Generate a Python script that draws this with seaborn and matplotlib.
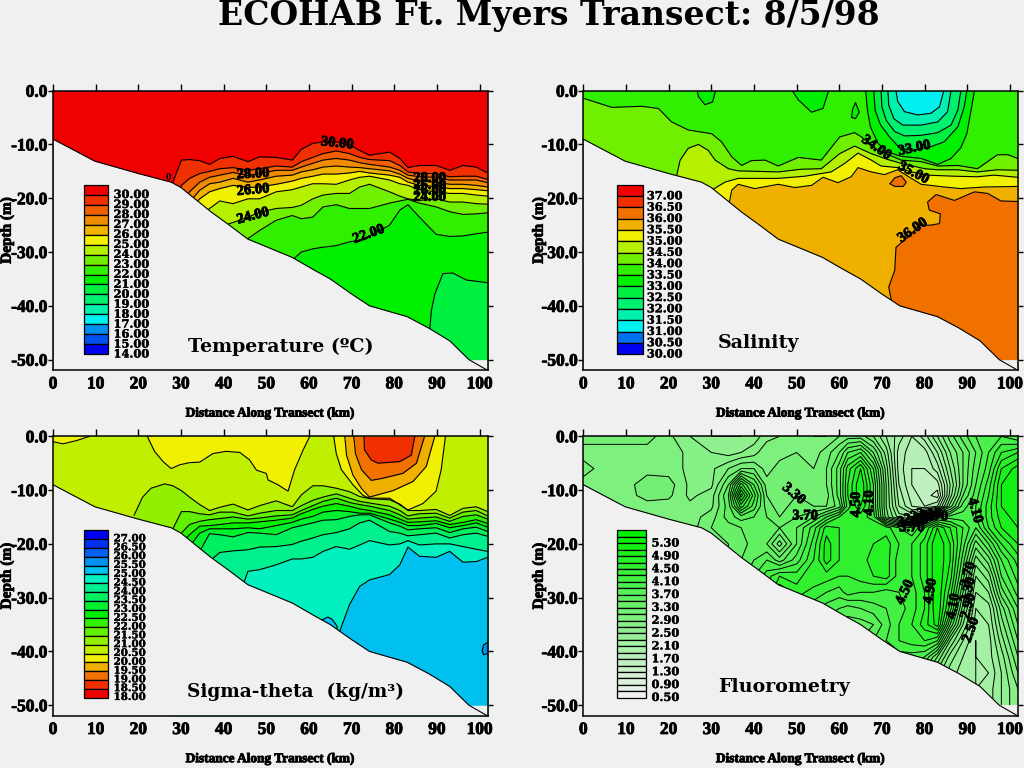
import numpy as np
import seaborn as sns
import matplotlib
matplotlib.use('Agg')
import matplotlib.pyplot as plt
import matplotlib.patheffects as pe
from matplotlib.patches import Rectangle

BG = '#F0F0F0'

# sea floor along the transect (depth in m, positive down)
floor_km = [0, 9.8, 20, 27.7, 30, 37, 41, 45.7, 50, 56.1, 60.9, 65, 70, 74.2, 83, 88, 93, 97.5, 101.9]
floor_m = [9, 13.1, 15.4, 17, 18, 22.5, 24.8, 27.6, 29, 31, 33.2, 35, 37.8, 40, 42, 44.1, 46.5, 50, 52]

# stations at which the layered isolines were read
station_km = [28.1, 30.1, 32, 34.4, 36.7, 39.1, 42.2, 45.7, 48.4, 52.3, 56.1, 58.2, 60.9, 63.3, 66.4,
              69.5, 71.9, 74.2, 78.9, 81.3, 83.2, 85.9, 89.8, 93, 96.1, 99.2, 101.9]

# temperature isotherm depths (m)
t30 = [17, 12.9, 12.8, 13, 13.7, 12.6, 12.2, 13.2, 12.3, 12.4, 12.9, 10.9, 9.8, 9.5, 9.5, 10.1, 11.1, 12, 11.4, 12.6, 14.3, 13.9, 13.9, 14.8, 13.9, 14.2, 15.3]
t29 = [22.2, 17.6, 16.3, 15.4, 15, 14.5, 14.3, 14.8, 14.5, 14, 14.2, 13.2, 12.4, 11.7, 11.2, 11.7, 12.4, 12.8, 13, 13.9, 15.1, 15.4, 15.4, 16, 15.9, 15.9, 16.5]
t28 = [23.5, 21.6, 18.8, 17, 16.1, 15.7, 15.2, 15.8, 15.4, 14.8, 14.8, 14.2, 13.5, 12.9, 12.6, 12.9, 13.4, 13.7, 14.2, 14.8, 15.7, 16, 16.1, 16.6, 16.6, 16.6, 17.1]
t27 = [24.7, 22.9, 20.7, 18.5, 17.3, 17, 16.3, 17, 16.6, 15.9, 15.7, 15.1, 14.7, 14.2, 14, 14.2, 14.3, 14.5, 14.9, 15.5, 16.3, 16.8, 17, 17.4, 17.4, 17.6, 17.9]
t26 = [26, 24.1, 22.2, 20.1, 18.8, 18.2, 17.6, 18, 17.9, 17.4, 16.8, 16.3, 15.9, 15.5, 15.5, 15.3, 15, 15.3, 15.7, 16.1, 17, 17.6, 17.8, 18.2, 18.2, 18.4, 18.6]
t25 = [27.2, 26, 24.7, 23.5, 21.9, 20.5, 21, 20.1, 20.1, 18.8, 18.4, 17.9, 17.3, 17.3, 17.4, 16.6, 16.1, 15.9, 16.6, 17.3, 17.6, 18.4, 18.8, 19.1, 19.1, 19.4, 19.6]
t24 = [35, 35, 35, 35, 30, 25.3, 24.5, 23.5, 22.6, 21.9, 21.7, 21.3, 20.1, 19.4, 19.1, 19.1, 17.9, 17.4, 18.8, 19.6, 20.1, 20.4, 20.1, 20.7, 20.7, 21, 21.1]
t23 = [40, 40, 40, 40, 40, 40, 40, 27.5, 26, 24.1, 23.2, 23.8, 23.5, 21.6, 21.2, 21.9, 21.9, 21.9, 20.9, 20.5, 20.2, 20.9, 21.6, 22.5, 23, 22.9, 22.7]
t22 = [40, 40, 40, 40, 40, 40, 40, 40, 40, 40, 31.5, 30, 29.4, 29.1, 28.8, 28.1, 27.8, 27, 25, 22.2, 21.2, 23.5, 26.7, 27.1, 27, 26.6, 26.3]
t21_km = [88.3, 88.7, 89.5, 91.4, 93.75, 96.9, 101.9]
t21_m = [44.5, 40.9, 37.8, 34, 33.9, 35.2, 35.7]

temp_labels = ['30.00', '29.00', '28.00', '27.00', '26.00', '25.00', '24.00', '23.00', '22.00', '21.00',
               '20.00', '19.00', '18.00', '17.00', '16.00', '15.00', '14.00']
temp_colors = ['#F00000', '#F03000', '#F06000', '#F08C00', '#F0B400', '#F0F000', '#B4F000', '#70F000', '#30F000',
               '#00F000', '#00F040', '#00F070', '#00F0B0', '#00F0F0', '#0090F0', '#0050F0', '#0000F0']

# salinity: surface low-salinity cells
s335_km = [66.2, 66.6, 67.3, 69.1, 71.4, 74.5, 79.2, 83.1, 86.2, 88.5, 89.9, 90.9, 91.7]
s335_m = [0, 3.6, 6.7, 9.8, 11.4, 12.2, 12.6, 13.7, 12.6, 10.6, 8, 3.6, 0]
s33_km = [68.1, 68.4, 69.7, 71.8, 74.1, 76.9, 81.5, 84.6, 87.8, 89.3, 89.9]
s33_m = [0, 3.6, 6.4, 8.6, 10.6, 11.1, 10.4, 9.5, 6.7, 3, 0]
s325_km = [69.8, 70, 71, 73, 75.3, 79.2, 83.1, 86.2, 87.8, 88.5]
s325_m = [0, 3, 5.5, 7.6, 8.4, 8.3, 7.8, 6.4, 3.6, 0]
s32_km = [71.4, 71.6, 72.8, 74.9, 79.2, 83.1, 85.4, 86.2]
s32_m = [0, 2.7, 5.2, 6.4, 6.4, 5.8, 3.9, 0]
s315_km = [73.3, 73.7, 75.3, 78.4, 81.5, 83.5, 84.5]
s315_m = [0, 2, 3.9, 4.5, 4.2, 3, 0]
cell_a_km = [26.7, 27, 28.5, 30.3, 31]
cell_a_m = [0, 1.1, 2.6, 2.1, 0]
cell_b_km = [49, 50.4, 53.5, 56.2, 57.5]
cell_b_m = [0, 1.7, 4, 3.3, 0]
cell_c_km = [62.9, 63.1, 63.8, 64.7, 63.8, 63.1, 62.9]
cell_c_m = [5, 3.5, 2.2, 4, 5.2, 5, 5]

# salinity: layers
s34_km = [0, 6.7, 13.7, 17.6, 20.7, 24.6, 30.1, 32.4, 34.8, 37.1, 39.4, 42.6, 45.7, 50.4, 55.8, 60.1, 63.6, 65.2, 69.1, 74.5, 79.2, 83.1, 87.8, 92.4, 97.1, 99.5, 101.9]
s34_m = [1.4, 3.1, 2.9, 3.3, 5.8, 7.3, 8, 9.5, 12.3, 13.9, 13, 12.9, 14, 12.4, 12.9, 8.6, 7.8, 8.6, 11.1, 12.9, 13.2, 14, 13.9, 14.5, 11.9, 11.9, 12.6]
s345_km = [21.9, 22.7, 24.6, 27, 29.3, 30.9, 34, 36.3, 45.7, 51.1, 55.8, 60.1, 63.6, 67.5, 71.4, 74.5, 80, 83.1, 87.8, 92.4, 97.1, 101.9]
s345_m = [15.7, 12.9, 10.7, 10, 11.1, 12.9, 14.5, 14.9, 15.1, 14.6, 14.5, 11.7, 10.3, 11.7, 12.8, 13.5, 14.5, 14.7, 14.7, 15.1, 14.7, 14.8]
s35_km = [30.1, 33.2, 36.3, 45.7, 51.9, 58.1, 61.3, 64.4, 67.5, 69.8, 73.7, 76.9, 80.7, 87, 92.4, 96.3, 101.9]
s35_m = [18.5, 17, 16.3, 16.3, 15.9, 15.1, 13.5, 11.6, 12.9, 14, 14.3, 15.1, 15.7, 15.9, 16, 15.7, 16.1]
s355_km = [34.1, 34.8, 36.3, 40.2, 45.7, 49.6, 53.5, 56.2, 59.7, 62.8, 64.4, 67.5, 70.6, 73.7, 76.1, 79.2, 84.6, 88.5, 94, 101.9]
s355_m = [21.3, 18.5, 17.4, 18.2, 17.4, 18, 17.6, 16.1, 17.1, 16, 14.3, 15.1, 15.6, 14.7, 15.9, 17.4, 17.9, 18.2, 17.9, 17.8]
s36_km = [72.2, 71.6, 73, 73.3, 76.1, 78.8, 81.4, 83.5, 83.7, 81.1, 80.7, 82.7, 87, 91.7, 94.8, 97.9, 101.9]
s36_m = [39, 36.5, 33.4, 29.1, 27.2, 25, 25, 24.7, 22.9, 22.2, 20.7, 19.3, 20.4, 18.8, 19.1, 20.5, 20.6]
s36_spot_km = [71.9, 73, 74.5, 75.7, 75, 73, 71.9]
s36_spot_m = [17.3, 16.2, 15.8, 17, 17.8, 17.8, 17.3]

sal_labels = ['37.00', '36.50', '36.00', '35.50', '35.00', '34.50', '34.00', '33.50', '33.00', '32.50',
              '32.00', '31.50', '31.00', '30.50', '30.00']
sal_colors = ['#F00000', '#F03000', '#F07000', '#F0B000', '#F0F000', '#B4F000', '#70F000', '#30F000', '#00F000',
              '#00F040', '#00F070', '#00F0B0', '#00F0F0', '#0070F0', '#0000F0']

# sigma-theta: surface cells
st205a_km = [0, 2.3, 5.5, 8.6]
st205a_m = [1, 1.4, 0.8, 0]
st205b_km = [22.1, 23.8, 25.8, 27.7, 29.7, 32, 34.4, 37.5, 40.6, 43.8, 46.1, 47.7, 50, 50.4, 52.7, 55.1, 56.6, 58.6, 60.2]
st205b_m = [0, 2.8, 4.7, 6, 5.3, 4.9, 4.8, 3.2, 2.8, 3, 4.4, 6.3, 6.9, 8.1, 9, 10.2, 6.3, 2.6, 0]
st205c_km = [65.8, 66.4, 67.6, 70.3, 72.7, 74.2, 78.9, 83.2, 86.7, 89.8, 91, 92]
st205c_m = [0, 3.2, 6.2, 9, 11, 11.5, 11.5, 13.7, 12.5, 10.2, 6.2, 0]
st20_km = [68.4, 68.8, 70.3, 72.3, 74.2, 79.7, 84.4, 87.5, 89.5]
st20_m = [0, 3.5, 7.2, 9.7, 11.3, 10.1, 8.4, 5.6, 0]
st195_km = [70.5, 70.9, 72.3, 74.6, 77.3, 82, 85.2, 87.1]
st195_m = [0, 3.2, 6.2, 8.2, 7.8, 6.9, 5, 0]
st19_km = [72.9, 73, 74.6, 76.2, 81.3, 84, 84.8]
st19_m = [0, 2.5, 4.4, 5, 4.7, 3.5, 0]

# sigma-theta: layers
st21_km = [19, 21, 23, 26.2] + station_km
st21_m = [14.7, 11.3, 9.65, 8.85, 9.2, 10.1, 11.3, 12.7, 13.8, 13.2, 12.6, 13.7, 12.9, 12, 13.1, 10.9, 9.2, 9.2, 9.65, 10.3, 11.2, 11.6, 11.8, 12.6, 13.8, 13.8, 13.6, 14.7, 13.4, 13.1, 14]
st215 = [17.2, 14, 14, 14.4, 14.6, 14.1, 14.1, 14.8, 14.3, 13.8, 13.8, 12.9, 11.9, 11.3, 10.7, 11.5, 12.1, 12.4, 13, 13.8, 14.8, 14.4, 14.3, 15.2, 14.1, 13.8, 14.8]
st22 = [19.8, 18, 16.4, 15.8, 15.5, 15.3, 15, 15.4, 15.2, 14.8, 14.6, 13.8, 12.9, 12.1, 11.5, 12.3, 12.7, 13, 13.8, 14.6, 15.4, 15.2, 15, 15.8, 14.9, 14.6, 15.4]
st225 = [21.7, 19.8, 18.3, 16.7, 16.6, 16.4, 16.1, 16.1, 15.9, 15.6, 15.2, 14.4, 13.6, 13, 12.5, 13, 13.5, 13.8, 14.6, 15.4, 16, 15.9, 15.7, 16.4, 16, 15.5, 16.2]
st23 = [30, 21.7, 20.5, 18, 17.2, 17.2, 17.2, 17, 17.2, 16.6, 16, 15.4, 14.9, 14.1, 13.8, 14, 14.3, 14.3, 15.4, 16, 16.6, 16.6, 16.2, 17, 16.6, 16.1, 16.9]
st235 = [30, 30, 22.9, 21.4, 18.1, 18.3, 18.7, 17.9, 18, 18.3, 17, 16.6, 16.1, 15.6, 15.5, 14.9, 14.6, 14.6, 16.1, 16.7, 17.4, 17.2, 17, 17.9, 17.2, 16.9, 17.7]
st24 = [33, 33, 28, 26, 23.2, 21.6, 21.3, 21.1, 20.6, 20.5, 20.1, 19.5, 18.9, 18.3, 17.9, 17.2, 16.1, 15.6, 17.7, 18, 18.5, 18.3, 18, 18.9, 18.3, 18, 18.6]
st245 = [40, 40, 40, 40, 40, 40, 33, 25.1, 24.8, 23.9, 22.8, 22.8, 22.5, 21.4, 20.5, 21, 20.2, 19.4, 20.2, 20, 19.4, 20.2, 20, 20, 20.5, 21, 21.4]
st25 = [60, 60, 60, 60, 60, 60, 60, 60, 60, 60, 60, 60, 60, 60, 38, 31.3, 27.9, 26.7, 25.7, 23.9, 20.6, 22.3, 22.5, 21.4, 23.4, 23.3, 22.5]
st25_spot_km = [62.9, 64.4, 65.4, 66.6, 66.6, 62.9]
st25_spot_m = [34.2, 33.6, 34, 35.3, 38, 38]
st255_spot_km = [101.9, 100.9, 100.6, 100.9, 101.9]
st255_spot_m = [38.3, 38.8, 39.8, 40.6, 40.4]

sig_labels = ['27.00', '26.50', '26.00', '25.50', '25.00', '24.50', '24.00', '23.50', '23.00', '22.50',
              '22.00', '21.50', '21.00', '20.50', '20.00', '19.50', '19.00', '18.50', '18.00']
sig_colors = ['#0000F0', '#0030F0', '#0060F0', '#0090F0', '#00C0F0', '#00F0C0', '#00F090', '#00F060', '#00F030',
              '#00F000', '#30F000', '#60F000', '#90F000', '#C0F000', '#F0F000', '#F0B000', '#F07000', '#F03000', '#F00000']

# fluorometry grid
fl_km = [0, 5, 10, 15, 20, 25, 30, 34, 37, 40, 43, 46, 50, 54, 57, 60, 62, 65, 68, 71, 74, 77, 80, 83, 86, 89, 92, 95, 98, 101.9]
fl_m = [0, 3, 6, 9, 11, 13, 15, 17, 20, 23, 26, 29, 32, 35, 38, 41, 44, 47, 50]
fl_0 = [3.2, 3.2, 3.2, 3.2, 2.95, 2.7, 2.5, 2.5, 2.5, 2.6, 2.8, 2.9, 3.1, 2.9, 2.9, 3.1, 3.2, 3.2, 2.9, 2.5, 2.2, 1.9, 2.2, 2.7, 3.2, 3.6, 3.9, 4.1, 4.1, 3.9]
fl_3 = [3.0, 3.0, 3.0, 3.0, 3.0, 2.85, 2.7, 2.6, 2.7, 2.8, 3.1, 3.0, 3.1, 3.0, 3.2, 3.5, 3.9, 4.1, 3.5, 2.8, 2.0, 1.8, 1.8, 2.3, 2.9, 3.3, 3.7, 4.1, 4.5, 4.7]
fl_6 = [3.2, 3.0, 3.0, 3.0, 3.0, 2.85, 2.85, 3.1, 3.3, 3.3, 3.0, 3.2, 3.2, 3.1, 3.3, 3.8, 4.4, 4.9, 4.1, 3.0, 2.0, 1.7, 1.7, 2.0, 2.7, 3.3, 3.8, 4.2, 4.9, 5.2]
fl_9 = [3.0, 3.0, 3.0, 3.25, 3.2, 2.85, 2.85, 3.5, 4.6, 3.9, 3.2, 3.3, 3.2, 3.2, 3.3, 3.8, 4.5, 5.1, 4.3, 3.1, 2.1, 1.7, 1.7, 1.6, 2.5, 3.3, 3.9, 4.4, 5.1, 5.3]
fl_11 = [3.0, 3.0, 3.0, 3.2, 3.15, 2.85, 3.0, 3.7, 5.2, 4.2, 3.3, 3.2, 3.3, 3.3, 3.2, 3.8, 4.5, 5.1, 4.3, 3.1, 2.2, 1.8, 1.6, 1.4, 2.6, 3.5, 4.0, 4.5, 5.1, 5.3]
fl_13 = [3.0, 3.0, 3.0, 3.0, 3.0, 2.95, 3.05, 3.6, 4.6, 4.0, 3.4, 3.2, 3.4, 3.3, 3.3, 3.6, 4.4, 4.9, 4.3, 3.1, 2.3, 1.9, 1.7, 1.9, 3.0, 3.8, 4.1, 4.6, 5.1, 5.3]
fl_15 = [3.0, 3.0, 3.0, 3.0, 3.0, 3.0, 3.2, 3.6, 3.8, 3.7, 3.5, 3.3, 3.5, 3.7, 4.1, 4.5, 4.7, 4.6, 4.4, 3.2, 2.6, 2.5, 3.2, 4.0, 4.0, 4.0, 4.1, 4.6, 5.0, 5.2]
fl_17 = [3.0, 3.0, 3.0, 3.0, 3.0, 3.0, 3.3, 3.4, 3.5, 3.6, 3.6, 3.5, 3.7, 4.2, 4.8, 4.7, 4.6, 4.5, 4.7, 4.6, 4.3, 4.1, 4.5, 5.1, 4.7, 4.3, 3.9, 4.5, 4.9, 5.1]
fl_20 = [3.0, 3.0, 3.0, 3.0, 3.0, 3.0, 3.1, 3.3, 3.4, 3.6, 3.5, 3.0, 3.7, 4.4, 5.0, 4.7, 4.6, 4.6, 4.7, 4.8, 4.5, 4.5, 4.8, 5.3, 4.9, 4.2, 3.4, 3.9, 4.5, 4.9]
fl_23 = [3.0, 3.0, 3.0, 3.0, 3.0, 3.0, 3.0, 3.3, 3.5, 3.7, 3.9, 3.6, 4.0, 4.5, 5.0, 4.7, 4.6, 4.6, 4.8, 4.8, 4.4, 4.5, 4.8, 5.3, 4.9, 4.0, 3.0, 3.4, 4.1, 4.6]
fl_26 = [3.0, 3.0, 3.0, 3.0, 3.0, 3.0, 3.0, 3.3, 3.6, 3.9, 4.2, 4.5, 4.4, 4.7, 4.6, 4.5, 4.5, 4.6, 4.7, 4.8, 4.4, 4.5, 4.8, 5.3, 4.8, 3.8, 2.7, 3.0, 3.9, 4.4]
fl_29 = [3.0, 3.0, 3.0, 3.0, 3.0, 3.0, 3.0, 3.3, 3.6, 3.9, 4.2, 4.9, 4.6, 4.4, 4.3, 4.2, 4.4, 4.3, 4.3, 4.2, 4.3, 4.4, 4.7, 5.3, 4.6, 3.5, 2.5, 2.7, 3.6, 4.2]
fl_32 = [3.0, 3.0, 3.0, 3.0, 3.0, 3.0, 3.0, 3.3, 3.6, 3.9, 4.2, 4.5, 4.3, 4.2, 4.0, 3.9, 3.8, 3.9, 4.0, 4.1, 4.2, 4.4, 4.7, 5.3, 4.4, 3.2, 2.3, 2.4, 3.2, 3.9]
fl_35 = [3.0, 3.0, 3.0, 3.0, 3.0, 3.0, 3.0, 3.3, 3.6, 3.9, 4.2, 4.5, 4.3, 4.0, 3.8, 3.7, 3.6, 3.6, 3.7, 4.0, 4.3, 4.5, 4.8, 5.2, 3.9, 2.9, 2.2, 2.3, 3.0, 3.7]
fl_38 = [3.0, 3.0, 3.0, 3.0, 3.0, 3.0, 3.0, 3.3, 3.6, 3.9, 4.2, 4.5, 4.3, 4.0, 3.8, 3.7, 3.6, 3.7, 3.9, 4.1, 4.3, 4.4, 4.5, 4.3, 3.1, 2.5, 2.1, 2.2, 2.8, 3.5]
fl_41 = [3.0, 3.0, 3.0, 3.0, 3.0, 3.0, 3.0, 3.3, 3.6, 3.9, 4.2, 4.5, 4.3, 4.0, 3.8, 3.7, 3.6, 3.7, 3.9, 4.0, 4.0, 4.0, 3.9, 3.3, 2.6, 2.3, 2.1, 2.2, 2.6, 3.3]
fl_44 = [3.0, 3.0, 3.0, 3.0, 3.0, 3.0, 3.0, 3.3, 3.6, 3.9, 4.2, 4.5, 4.3, 4.0, 3.8, 3.7, 3.6, 3.7, 3.9, 4.0, 4.0, 3.8, 3.4, 2.8, 2.4, 2.2, 2.1, 2.1, 2.5, 3.1]
fl_47 = [3.0, 3.0, 3.0, 3.0, 3.0, 3.0, 3.0, 3.3, 3.6, 3.9, 4.2, 4.5, 4.3, 4.0, 3.8, 3.7, 3.6, 3.7, 3.9, 4.0, 4.0, 3.8, 3.4, 2.8, 2.4, 2.2, 2.1, 2.2, 2.5, 2.9]
fl_50 = [3.0, 3.0, 3.0, 3.0, 3.0, 3.0, 3.0, 3.3, 3.6, 3.9, 4.2, 4.5, 4.3, 4.0, 3.8, 3.7, 3.6, 3.7, 3.9, 4.0, 4.0, 3.8, 3.4, 2.8, 2.4, 2.2, 2.1, 2.2, 2.5, 2.9]

fl_levels = [0.5 + 0.2 * i for i in range(27)]
fl_labels = ['5.30', '4.90', '4.50', '4.10', '3.70', '3.30', '2.90', '2.50', '2.10', '1.70', '1.30', '0.90', '0.50']

sns.set_theme(style='white', rc={'figure.facecolor': BG, 'axes.facecolor': BG, 'savefig.facecolor': BG})
SERIF = 'Liberation Serif'
WIDE = 'DejaVu Serif'
HEAVY = [pe.withStroke(linewidth=0.6, foreground='black')]
SEMI = [pe.withStroke(linewidth=0.25, foreground='black')]


def new_panel(fig, left, top, ylabel_x):
    # pixel box of one panel in the 1024x768 picture
    ax = fig.add_axes([left / 1024, 1 - (top + 279.7) / 768, 434.7 / 1024, 279.7 / 768])
    ax.set_xlim(0, 101.9)
    ax.set_ylim(-52, 0)
    ax.set_xticks(range(0, 101, 10))
    ax.set_yticks(range(0, -51, -10))
    ax.set_yticklabels(['0.0', '-10.0', '-20.0', '-30.0', '-40.0', '-50.0'])
    ax.tick_params(axis='x', top=True, bottom=False, length=5, width=1, color='black', pad=-0.7)
    ax.tick_params(axis='y', left=True, right=True, length=3.6, width=1, color='black', pad=0.5)
    for lab in ax.get_xticklabels() + ax.get_yticklabels():
        lab.set_family(SERIF)
        lab.set_weight('bold')
        lab.set_fontsize(12.5)
        lab.set_color('black')
        lab.set_path_effects(HEAVY)
    for s in ax.spines.values():
        s.set_color('black')
        s.set_linewidth(1.1)
        s.set_zorder(8)
    ax.set_xlabel('Distance Along Transect (km)', family=SERIF, weight='bold', fontsize=9.6, color='black', path_effects=HEAVY)
    ax.set_ylabel('Depth (m)', family=SERIF, weight='bold', fontsize=11, color='black', path_effects=HEAVY)
    ax.xaxis.set_label_coords(0.5, -0.133)
    ax.yaxis.set_label_coords(ylabel_x, 0.5)
    return ax


def iso_line(ax, km, m):
    sns.lineplot(x=km, y=-np.array(m), ax=ax, color='black', lw=0.8, sort=False, estimator=None, legend=False, zorder=2)


def layer(ax, km, m, color):
    # everything below this isoline takes the next band colour
    ax.fill_between(km, -np.array(m), -52, color=color, lw=0, zorder=1)
    iso_line(ax, km, m)


def cell(ax, km, m, color):
    # region hanging from the surface
    ax.fill_between(km, 0, -np.array(m), color=color, lw=0, zorder=1)
    iso_line(ax, km, m)


def spot(ax, km, m, color):
    ax.fill(km, -np.array(m), color=color, lw=0, zorder=1)
    iso_line(ax, km, m)


def sea_floor(ax):
    ax.fill_between(floor_km, -np.minimum(floor_m, 50), -52, color=BG, lw=0, zorder=3)
    sns.lineplot(x=floor_km, y=-np.array(floor_m), ax=ax, color='black', lw=0.8, sort=False, estimator=None, legend=False, zorder=4)


def scale_box(ax, colors, labels, km0, km1, top, bottom, label_km, first_at=1, step=1, size=8.2):
    # colour key: one swatch per band, labels under the swatches they close
    n = len(colors)
    h = (top - bottom) / n
    for i, c in enumerate(colors):
        ax.add_patch(Rectangle((km0, top - (i + 1) * h), km1 - km0, h, facecolor=c, edgecolor='black', lw=0.9, zorder=5))
    for j, t in enumerate(labels):
        y = top - (first_at + j * step) * h
        ax.text(label_km, y + 0.05, t, family=WIDE, weight='bold', fontsize=size, color='black', va='center', ha='left',
                path_effects=SEMI, zorder=6)


def name_tag(ax, km, m, text, size=13.7):
    ax.text(km, m, text, family=WIDE, weight='bold', fontsize=size, color='black', ha='left', va='center', zorder=6)


def iso_label(ax, km, m, text, rot):
    ax.text(km, m, text, family=SERIF, weight='bold', fontsize=10.5, color='black', ha='center', va='center',
            rotation=rot, rotation_mode='anchor', path_effects=HEAVY, zorder=6)


fig = plt.figure(figsize=(10.24, 7.68), dpi=100)
fig.text(549 / 1024, 1 - 15 / 768, 'ECOHAB Ft. Myers Transect: 8/5/98', family=WIDE, weight='bold', fontsize=23.8,
         color='black', ha='center', va='center')

# temperature
ax = new_panel(fig, 53, 90.7, -0.09)
ax.fill_between([0, 101.9], 0, -52, color=temp_colors[0], lw=0, zorder=0)
for line, c in zip([t30, t29, t28, t27, t26, t25, t24, t23, t22], temp_colors[1:10]):
    layer(ax, station_km, line, c)
layer(ax, t21_km, t21_m, temp_colors[10])
sea_floor(ax)
scale_box(ax, temp_colors, temp_labels, 7.3, 13, -17.5, -49, 14.2)
name_tag(ax, 31.6, -47.7, 'Temperature (ºC)')
iso_label(ax, 66.6, -9.8, '30.00', -6)
iso_label(ax, 46.9, -15.5, '28.00', 3)
iso_label(ax, 46.9, -18.5, '26.00', 5)
iso_label(ax, 46.9, -23.3, '24.00', 15)
iso_label(ax, 74, -26.7, '22.00', 20)
iso_label(ax, 88.3, -16.3, '28.00', 0)
iso_label(ax, 88.3, -17.6, '26.00', 0)
iso_label(ax, 88.3, -18.6, '26.00', 0)
iso_label(ax, 88.3, -19.8, '24.00', 0)
ax.text(27, -16.2, '0', family=SERIF, weight='bold', fontsize=8, color='black', ha='center', va='center', zorder=6)

# salinity
ax = new_panel(fig, 583.3, 90.7, -0.086)
ax.fill_between([0, 101.9], 0, -52, color=sal_colors[7], lw=0, zorder=0)
cell(ax, cell_a_km, cell_a_m, sal_colors[8])
cell(ax, cell_b_km, cell_b_m, sal_colors[8])
spot(ax, cell_c_km, cell_c_m, sal_colors[8])
layer(ax, s34_km, s34_m, sal_colors[6])
for km, m, c in zip([s335_km, s33_km, s325_km, s32_km, s315_km], [s335_m, s33_m, s325_m, s32_m, s315_m], sal_colors[8:13]):
    cell(ax, km, m, c)
layer(ax, s345_km, s345_m, sal_colors[5])
layer(ax, s35_km, s35_m, sal_colors[4])
layer(ax, s355_km, s355_m, sal_colors[3])
ax.fill(s36_km + [101.9, 72.2], -np.array(s36_m + [52, 52]), color=sal_colors[2], lw=0, zorder=1)
iso_line(ax, s36_km, s36_m)
spot(ax, s36_spot_km, s36_spot_m, sal_colors[2])
sea_floor(ax)
scale_box(ax, sal_colors, sal_labels, 7.9, 13.9, -17.5, -49, 14.9)
name_tag(ax, 31.4, -46.9, 'Salinity')
iso_label(ax, 68.7, -10.6, '34.00', -35)
iso_label(ax, 77.6, -10.7, '33.00', 12)
iso_label(ax, 77.4, -15.3, '35.00', -28)
iso_label(ax, 77.2, -26, '36.00', 35)

# sigma-theta
ax = new_panel(fig, 53, 436.3, -0.09)
ax.fill_between([0, 101.9], 0, -52, color=sig_colors[13], lw=0, zorder=0)
for km, m, c in zip([st205a_km, st205b_km, st205c_km, st20_km, st195_km, st19_km],
                    [st205a_m, st205b_m, st205c_m, st20_m, st195_m, st19_m],
                    [sig_colors[14], sig_colors[14], sig_colors[14], sig_colors[15], sig_colors[16], sig_colors[17]]):
    cell(ax, km, m, c)
layer(ax, st21_km, st21_m, sig_colors[12])
for line, c in zip([st215, st22, st225, st23, st235, st24, st245, st25], sig_colors[11:3:-1]):
    layer(ax, station_km, line, c)
spot(ax, st25_spot_km, st25_spot_m, sig_colors[4])
spot(ax, st255_spot_km, st255_spot_m, sig_colors[3])
sea_floor(ax)
scale_box(ax, sig_colors, sig_labels, 7.3, 13, -17.5, -48.6, 14.2, size=7.4)
name_tag(ax, 31.5, -47.5, 'Sigma-theta  (kg/m³)', size=13.3)

# fluorometry
ax = new_panel(fig, 583.3, 436.3, -0.086)
fl_grid = np.array([fl_0, fl_3, fl_6, fl_9, fl_11, fl_13, fl_15, fl_17, fl_20, fl_23, fl_26, fl_29, fl_32,
                    fl_35, fl_38, fl_41, fl_44, fl_47, fl_50])
fl_colors = sns.blend_palette([BG, '#00F000'], 26)
ax.contourf(fl_km, -np.array(fl_m), fl_grid, levels=fl_levels, colors=fl_colors, zorder=1)
ax.contour(fl_km, -np.array(fl_m), fl_grid, levels=fl_levels, colors='black', linewidths=0.7, zorder=2)
ax.fill_between([0, 101.9], -50, -52, color=BG, lw=0, zorder=2.5)
sea_floor(ax)
scale_box(ax, fl_colors[::-1], fl_labels, 8, 14.7, -17.5, -48.6, 16, first_at=2, step=2)
name_tag(ax, 31.5, -46.7, 'Fluorometry')
iso_label(ax, 49.3, -10.7, '3.30', -40)
iso_label(ax, 52, -14.8, '3.70', 0)
iso_label(ax, 64, -12.7, '4.50', 90)
iso_label(ax, 67.1, -12.4, '4.10', 90)
iso_label(ax, 91.8, -13.8, '4.10', -75)
iso_label(ax, 75.4, -29, '4.50', 65)
iso_label(ax, 81.4, -28.8, '4.90', 80)
iso_label(ax, 86.8, -31.6, '4.10', 80)
iso_label(ax, 90.3, -25.7, '3.70', 75)
iso_label(ax, 90.3, -28.6, '3.30', 75)
iso_label(ax, 90.3, -31.6, '2.90', 75)
iso_label(ax, 90.9, -36, '2.50', 70)
for km, m, t in [(76.5, -16, '3.30'), (78, -15.5, '2.90'), (79.5, -15, '2.50'), (81, -14.5, '2.10'), (82.5, -15, '3.70'), (77, -17, '3.70')]:
    iso_label(ax, km, m, t, 0)

fig.savefig('out.png', dpi=100)
